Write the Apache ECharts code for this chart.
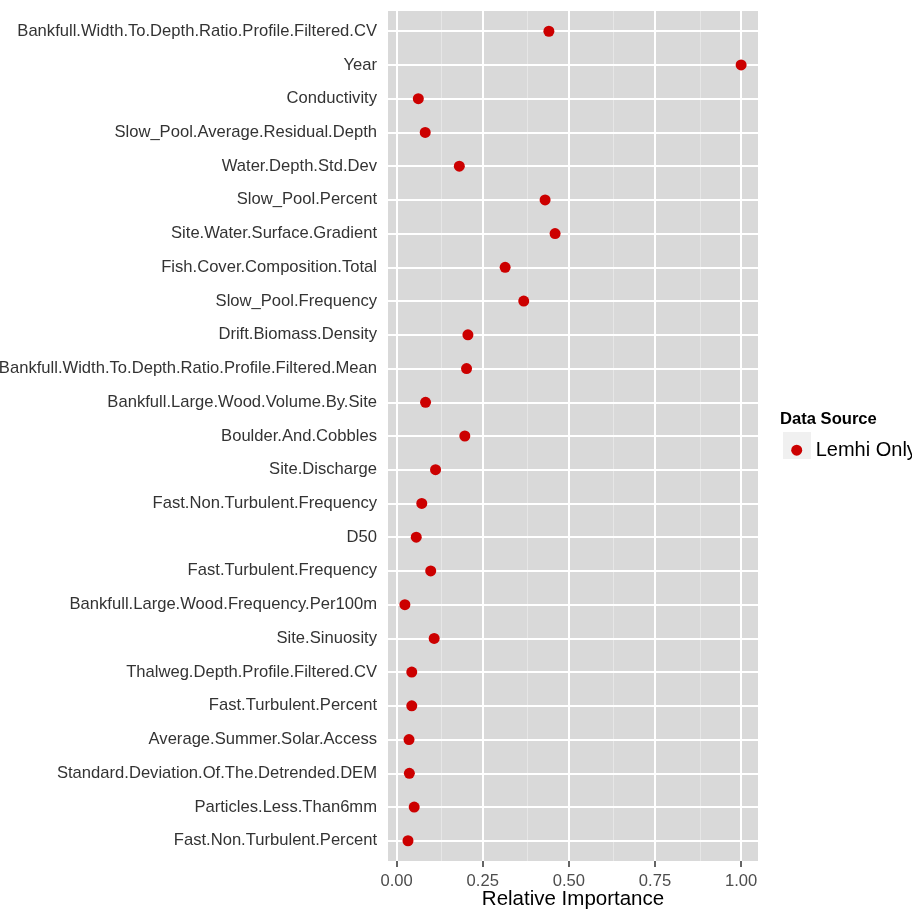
<!DOCTYPE html>
<html>
<head>
<meta charset="utf-8">
<script src="https://cdn.jsdelivr.net/npm/echarts@6/dist/echarts.min.js"></script>
<style>
  html, body { margin: 0; padding: 0; background: #ffffff; }
  #chart { width: 912px; height: 910px; }
</style>
</head>
<body>
<div id="chart"></div>
<script>
// Predictor names, listed top to bottom
const predictors = [
  'Bankfull.Width.To.Depth.Ratio.Profile.Filtered.CV',
  'Year',
  'Conductivity',
  'Slow_Pool.Average.Residual.Depth',
  'Water.Depth.Std.Dev',
  'Slow_Pool.Percent',
  'Site.Water.Surface.Gradient',
  'Fish.Cover.Composition.Total',
  'Slow_Pool.Frequency',
  'Drift.Biomass.Density',
  'Bankfull.Width.To.Depth.Ratio.Profile.Filtered.Mean',
  'Bankfull.Large.Wood.Volume.By.Site',
  'Boulder.And.Cobbles',
  'Site.Discharge',
  'Fast.Non.Turbulent.Frequency',
  'D50',
  'Fast.Turbulent.Frequency',
  'Bankfull.Large.Wood.Frequency.Per100m',
  'Site.Sinuosity',
  'Thalweg.Depth.Profile.Filtered.CV',
  'Fast.Turbulent.Percent',
  'Average.Summer.Solar.Access',
  'Standard.Deviation.Of.The.Detrended.DEM',
  'Particles.Less.Than6mm',
  'Fast.Non.Turbulent.Percent'
];

// Relative importance for the "Lemhi Only" data source
const lemhiOnly = [
  0.442, 1.000, 0.063, 0.083, 0.182, 0.431, 0.460, 0.315, 0.369, 0.207,
  0.203, 0.084, 0.198, 0.113, 0.073, 0.057, 0.099, 0.024, 0.109, 0.044,
  0.044, 0.036, 0.037, 0.051, 0.033
];

const xMajorTicks = [0, 0.25, 0.5, 0.75, 1.0];
const xMinorTicks = [0.125, 0.375, 0.625, 0.875];

const seriesName = 'Lemhi Only';
const legendTitle = 'Data Source';
const xTitle = 'Relative Importance';

// Each predictor sits on an integer row; the first one is at the top
const n = predictors.length;
const rowOf = i => n - i;
const rowValues = predictors.map((_, i) => rowOf(i));

const points = lemhiOnly.map((v, i) => [v, rowOf(i)]);

const chart = echarts.init(document.getElementById('chart'), null, { renderer: 'canvas' });

const font = 'Liberation Sans, Arial, Helvetica, sans-serif';
const textSize = 16.6;

chart.setOption({
  backgroundColor: '#ffffff',
  animation: false,
  grid: {
    left: 388, right: 154, top: 11, bottom: 49,
    containLabel: false,
    outerBoundsMode: 'none',
    show: true, backgroundColor: '#d9d9d9', borderWidth: 0
  },
  xAxis: {
    type: 'value',
    min: -0.025, max: 1.049,
    axisLine: { show: false },
    splitLine: { show: false },
    axisTick: {
      show: true, length: 6, customValues: xMajorTicks,
      lineStyle: { color: '#333333', width: 1.5 }
    },
    axisLabel: {
      customValues: xMajorTicks,
      formatter: v => v.toFixed(2),
      color: '#4d4d4d', fontSize: textSize, fontFamily: font, margin: 12
    },
    name: xTitle,
    nameLocation: 'middle',
    nameGap: 28,
    nameMoveOverlap: false,
    nameTextStyle: { color: '#000000', fontSize: 20.5, fontFamily: font }
  },
  yAxis: {
    type: 'value',
    min: 0.4, max: n + 0.6,
    axisLine: { show: false },
    splitLine: { show: false },
    axisTick: {
      show: true, length: 6, customValues: rowValues,
      lineStyle: { color: '#333333', width: 1.5 }
    },
    axisLabel: {
      customValues: rowValues,
      formatter: v => predictors[n - v],
      color: '#333333', fontSize: textSize, fontFamily: font, margin: 11
    }
  },
  legend: {
    data: [seriesName],
    orient: 'vertical',
    left: 791.2, top: 440.2,
    padding: 0,
    z: 6,
    icon: 'circle',
    itemWidth: 28, itemHeight: 11,
    textStyle: { color: '#000000', fontSize: 20, fontFamily: font }
  },
  graphic: [
    {
      type: 'text', left: 780, top: 411, z: 10,
      style: { text: legendTitle, fill: '#000000', font: 'bold ' + textSize + 'px ' + font }
    },
    {
      type: 'rect', left: 783, top: 432, z: 2,
      shape: { width: 28, height: 27 },
      style: { fill: '#f0f0f0' }
    }
  ],
  series: [
    {
      // panel grid lines
      type: 'scatter',
      data: [],
      silent: true,
      z: 1,
      markLine: {
        silent: true,
        symbol: ['none', 'none'],
        label: { show: false },
        animation: false,
        data: [
          ...xMinorTicks.map(v => ({ xAxis: v, lineStyle: { color: '#e6e6e6', width: 1, type: 'solid' } })),
          ...xMajorTicks.map(v => ({ xAxis: v, lineStyle: { color: '#ffffff', width: 2, type: 'solid' } })),
          ...rowValues.map(v => ({ yAxis: v, lineStyle: { color: '#ffffff', width: 2, type: 'solid' } }))
        ]
      }
    },
    {
      name: seriesName,
      type: 'scatter',
      z: 5,
      symbol: 'circle',
      symbolSize: 11,
      itemStyle: { color: '#cc0000', opacity: 1 },
      data: points
    }
  ]
});
</script>
</body>
</html>
